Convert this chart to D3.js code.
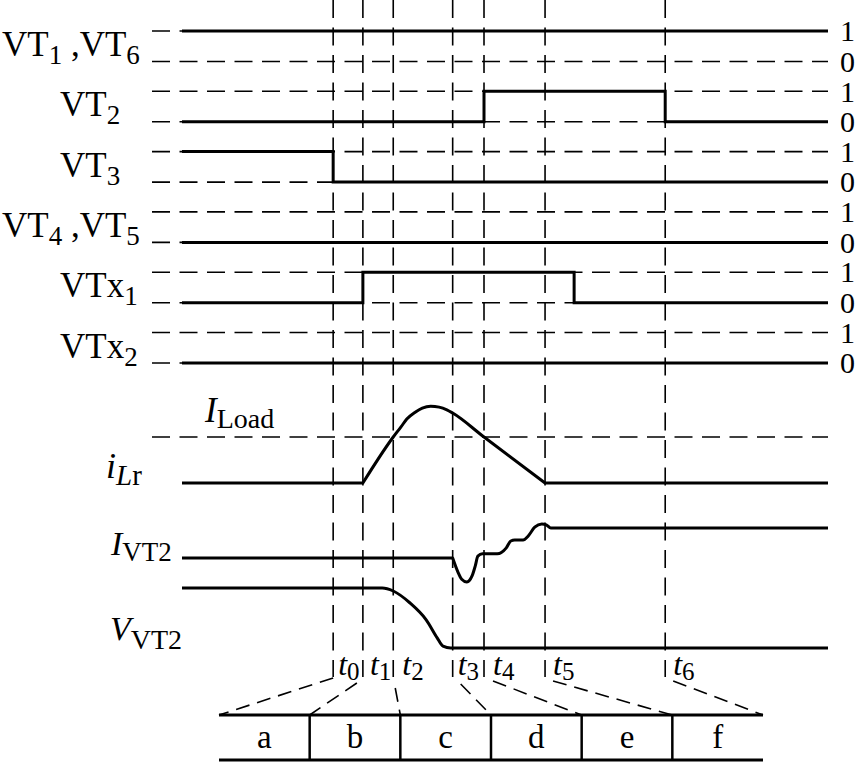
<!DOCTYPE html>
<html><head><meta charset="utf-8">
<script src="https://cdn.jsdelivr.net/npm/d3@7"></script>
<style>
body{margin:0;background:#fff}
svg{display:block}
text{font-family:"Liberation Serif","Times New Roman",serif;fill:#000}
</style>
</head><body>
<svg id="chart" width="859" height="763"></svg>
<script>
// ---------------- data ----------------
const instantNames = ["0","1","2","3","4","5","6"];            // t subscripts
const instantTimes = [23.4, 28.0, 32.7, 41.9, 46.75, 56.2, 74.8];
const timeDomain = [0, 100];

// gate signal labels: [text, isSubscript]
const gateLabels = [
  [["VT",0],["1",1],[" ,VT",0],["6",1]],
  [["VT",0],["2",1]],
  [["VT",0],["3",1]],
  [["VT",0],["4",1],[" ,VT",0],["5",1]],
  [["VTx",0],["1",1]],
  [["VTx",0],["2",1]]
];
// gate switching: [time, level]
const gateVT16 = [[0,1]];
const gateVT2  = [[0,0],[46.75,1],[74.8,0]];
const gateVT3  = [[0,1],[23.4,0]];
const gateVT45 = [[0,0]];
const gateVTx1 = [[0,0],[28.0,1],[60.7,0]];
const gateVTx2 = [[0,0]];
const gateSignals = [gateVT16, gateVT2, gateVT3, gateVT45, gateVTx1, gateVTx2];
const levelLabels = ["1","0"];

// resonant inductor current (I_Load = 1)
const iLrTime  = [0, 28.0, 32.7, 33.9, 34.8, 36.1, 37.2, 38.5, 39.8, 41.0, 41.9, 46.75, 56.2, 100];
const iLrValue = [0, 0,    1.0,  1.22, 1.39, 1.54, 1.63, 1.67, 1.65, 1.59, 1.52, 1.0,   0,    0];
const iLrCorners = [1, 12];
const iLoadLevel = 1;

// switch VT2 current
const iVT2Time  = [0, 41.9, 42.7, 43.3, 44.1, 44.9, 45.4, 45.8, 46.5, 48.8, 50.2, 50.9, 51.5, 52.8, 53.6, 54.6, 55.7, 56.4, 57.1, 100];
const iVT2Value = [0, 0,   -0.30,-0.46,-0.52,-0.39,-0.17, 0.04, 0.09, 0.09, 0.22, 0.37, 0.39, 0.39, 0.48, 0.67, 0.74, 0.72, 0.65, 0.65];
const iVT2Corners = [1];

// switch VT2 voltage
const vVT2Time  = [0, 31.0, 32.7, 35.3, 37.8, 39.5, 40.4, 41.6, 100];
const vVT2Value = [1, 1,    0.95, 0.75, 0.47, 0.17, 0.03, 0,    0];
const vVT2Corners = [];

// interval labels
const cellLabels = ["a","b","c","d","e","f"];

// ---------------- drawing ----------------
const svg = d3.select("#chart");
const x = d3.scaleLinear().domain(timeDomain).range([182, 828]);
const DASH = "18,9.5";
const SERIF = 35, SUB = 27;

function richText(g, px, py, parts, opt) {
  const main = opt.main, sub = opt.sub, shift = opt.shift;
  const t = g.append("text").attr("x", px).attr("y", py)
    .attr("text-anchor", opt.anchor || "start");
  let cur = 0;
  parts.forEach(p => {
    const s = p[0], isSub = p[1], ital = p[2];
    const target = isSub ? shift : 0;
    const ts = t.append("tspan").text(s)
      .attr("font-size", isSub ? sub : main)
      .attr("dy", target - cur);
    if (ital) ts.attr("font-style", "italic");
    cur = target;
  });
  return t;
}

function mixedPath(xs, ys, corners, xScale, yScale) {
  const pts = xs.map((d, i) => [xScale(d), yScale(ys[i])]);
  const cuts = [0, ...corners, pts.length - 1];
  const lin = d3.line().curve(d3.curveLinear);
  const mono = d3.line().curve(d3.curveMonotoneX);
  let d = "";
  for (let k = 0; k < cuts.length - 1; k++) {
    const seg = pts.slice(cuts[k], cuts[k + 1] + 1);
    let s = (seg.length > 2 ? mono : lin)(seg);
    if (k > 0) s = "L" + s.slice(1);
    d += s;
  }
  return d;
}

// vertical dashed instant lines
svg.append("g").selectAll("line").data(instantTimes).join("line")
  .attr("x1", d => x(d)).attr("x2", d => x(d))
  .attr("y1", 0).attr("y2", 677)
  .attr("stroke", "#000").attr("stroke-width", 1.6).attr("stroke-dasharray", DASH);

// gate rows
const rowTop = d3.scaleLinear().domain([0, 1]).range([31, 91.3]);
const gRows = svg.append("g");
gateSignals.forEach((sig, i) => {
  const y1 = rowTop(i), y0 = y1 + 30.5;
  const lv = d3.scaleLinear().domain([0, 1]).range([y0, y1]);
  [1, 0].forEach(l => {
    gRows.append("line").attr("x1", 152).attr("x2", 828)
      .attr("y1", lv(l)).attr("y2", lv(l))
      .attr("stroke", "#000").attr("stroke-width", 1.6).attr("stroke-dasharray", DASH);
  });
  const pts = sig.concat([[timeDomain[1], sig[sig.length - 1][1]]]);
  gRows.append("path")
    .attr("d", d3.line().curve(d3.curveStepAfter).x(d => x(d[0])).y(d => lv(d[1]))(pts))
    .attr("fill", "none").attr("stroke", "#000").attr("stroke-width", 3);
  const lx = gateLabels[i].length > 2 ? 2 : 60;
  richText(gRows, lx, y1 + 25, gateLabels[i], {main: SERIF, sub: SUB, shift: 8});
  levelLabels.forEach((t, k) => {
    gRows.append("text").attr("x", 840).attr("y", lv(1 - k)).attr("dy", "0.34em")
      .attr("font-size", 30).text(t);
  });
});

// analog section
const yI = d3.scaleLinear().domain([0, 1]).range([483, 437]);
const yIv = d3.scaleLinear().domain([0, 1]).range([558, 512]);
const yV = d3.scaleLinear().domain([0, 1]).range([648, 588]);
const gA = svg.append("g");

gA.append("line").attr("x1", 152).attr("x2", 828)
  .attr("y1", yI(iLoadLevel)).attr("y2", yI(iLoadLevel))
  .attr("stroke", "#000").attr("stroke-width", 1.6).attr("stroke-dasharray", DASH);

[[iLrTime, iLrValue, iLrCorners, yI], [iVT2Time, iVT2Value, iVT2Corners, yIv], [vVT2Time, vVT2Value, vVT2Corners, yV]]
  .forEach(([xs, ys, c, ys2]) => {
    gA.append("path").attr("d", mixedPath(xs, ys, c, x, ys2))
      .attr("fill", "none").attr("stroke", "#000").attr("stroke-width", 3)
      .attr("stroke-linejoin", "round");
  });

richText(gA, 205, 422, [["I",0,1],["Load",1]], {main: 35, sub: 28, shift: 6});
richText(gA, 106, 478, [["i",0,1],["L",1,1],["r",1]], {main: 36, sub: 29, shift: 7});
richText(gA, 111, 555, [["I",0,1],["VT2",1]], {main: 34, sub: 27, shift: 6});
richText(gA, 110, 640, [["V",0,1],["VT2",1]], {main: 34, sub: 28, shift: 9});

// instant labels
const labelDx = [5, 7, 9, 5, 9, 8, 8];
instantTimes.forEach((t, i) => {
  richText(svg, x(t) + labelDx[i], 675, [["t",0,1],[instantNames[i],1]], {main: 32, sub: 25, shift: 5});
});

// interval boxes
const band = d3.scaleBand().domain(cellLabels).range([219, 763]);
const edges = cellLabels.map(c => band(c)).concat([band.range()[1]]);
const gB = svg.append("g");
[715, 760].forEach(yy => gB.append("line").attr("x1", edges[0]).attr("x2", edges[edges.length - 1])
  .attr("y1", yy).attr("y2", yy).attr("stroke", "#000").attr("stroke-width", 3));
gB.selectAll("line.div").data(edges.slice(1, -1)).join("line").attr("class", "div")
  .attr("x1", d => d).attr("x2", d => d).attr("y1", 715).attr("y2", 760)
  .attr("stroke", "#000").attr("stroke-width", 2.5);
gB.selectAll("text").data(cellLabels).join("text")
  .attr("x", d => band(d) + band.bandwidth() / 2).attr("y", 748)
  .attr("text-anchor", "middle").attr("font-size", 33).text(d => d);

// connectors from instants to interval boundaries
const connDx = [0, -6, 2, 8, 9, 8, 8];
const connY = [678, 683, 688, 684, 681, 681, 681];
instantTimes.forEach((t, i) => {
  gB.append("line").attr("x1", x(t) + connDx[i]).attr("y1", connY[i])
    .attr("x2", edges[i]).attr("y2", 715)
    .attr("stroke", "#000").attr("stroke-width", 1.6).attr("stroke-dasharray", "14,8");
});
</script>
</body></html>
